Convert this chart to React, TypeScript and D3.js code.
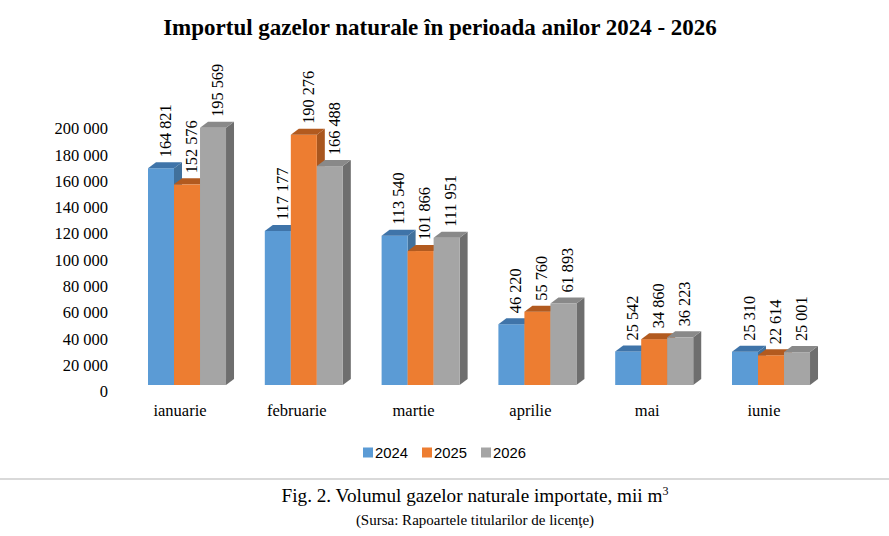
import React from "react";
import * as d3 from "d3";

const months = ["ianuarie", "februarie", "martie", "aprilie", "mai", "iunie"];
const years = ["2024", "2025", "2026"];
const values2024 = [164821, 117177, 113540, 46220, 25542, 25310];
const values2025 = [152576, 190276, 101866, 55760, 34860, 22614];
const values2026 = [195569, 166488, 111951, 61893, 36223, 25001];
const yTicks = [0, 20000, 40000, 60000, 80000, 100000, 120000, 140000, 160000, 180000, 200000];
const title = "Importul gazelor naturale în perioada anilor 2024 - 2026";
const caption = "Fig. 2. Volumul gazelor naturale importate, mii m";
const source = "(Sursa: Rapoartele titularilor de licenţe)";

const W = 889;
const H = 536;
const front = ["#5B9BD5", "#ED7D31", "#A5A5A5"];
const topC = ["#3F74A9", "#B25A1F", "#898989"];
const sideC = ["#41719C", "#A9561E", "#6E6E6E"];
const DX = 8;
const DY = 6;
const serif = "'Liberation Serif', 'Times New Roman', serif";
const sans = "'Liberation Sans', Arial, sans-serif";

const loc = d3.formatLocale({ decimal: ",", thousands: " ", grouping: [3], currency: ["", ""] });
const fmt = loc.format(",d");

export default function App() {
  const series = [values2024, values2025, values2026];
  const pi = 0.332;
  const step = 116.8;
  const r0 = 148 - step * pi / 2;
  const x = d3.scaleBand<string>().domain(months).range([r0, r0 + step * months.length]).paddingInner(pi).paddingOuter(pi / 2);
  const xi = d3.scaleBand<string>().domain(years).range([0, x.bandwidth()]).padding(0);
  const y = d3.scaleLinear().domain([0, 200000]).range([385, 122]);
  const y0 = y(0);
  const w = xi.bandwidth();

  return (
    <svg width={W} height={H} style={{ position: "absolute", left: 0, top: 0, background: "#fff" }}>
      <text x={440} y={35} textAnchor="middle" fontFamily={serif} fontWeight="bold" fontSize={23} fill="#000">{title}</text>
      {yTicks.map((t) => (
        <text key={t} x={108} y={y(t) + 6.5} dy="0.35em" textAnchor="end" fontFamily={serif} fontSize={16.5} fill="#000">{fmt(t)}</text>
      ))}
      {months.map((m, i) => (
        <g key={m}>
          {years.map((yr, j) => {
            const v = series[j][i];
            const bx = (x(m) as number) + (xi(yr) as number);
            const by = y(v);
            const topPts = [[bx, by], [bx + w, by], [bx + w + DX, by - DY], [bx + DX, by - DY]];
            const sidePts = [[bx + w, by], [bx + w + DX, by - DY], [bx + w + DX, y0 - DY], [bx + w, y0]];
            return (
              <g key={yr}>
                <polygon points={sidePts.map((p) => p.join(",")).join(" ")} fill={sideC[j]} />
                <rect x={bx} y={by} width={w} height={y0 - by} fill={front[j]} />
                <polygon points={topPts.map((p) => p.join(",")).join(" ")} fill={topC[j]} />
              </g>
            );
          })}
          {years.map((yr, j) => {
            const v = series[j][i];
            const cx = (x(m) as number) + (xi(yr) as number) + w / 2 + DX / 2;
            const ty = y(v) - DY - 5;
            return (
              <text key={yr} transform={`translate(${cx},${ty}) rotate(-90)`} dy="0.35em" textAnchor="start" fontFamily={serif} fontSize={16.3} fill="#000">{fmt(v)}</text>
            );
          })}
          <text x={(x(m) as number) + x.bandwidth() / 2 - 7} y={416} textAnchor="middle" fontFamily={serif} fontSize={16.5} fill="#000">{m}</text>
        </g>
      ))}
      {years.map((yr, j) => {
        const lx = [363, 422, 481][j];
        return (
          <g key={yr}>
            <rect x={lx} y={447.5} width={10} height={10} fill={front[j]} />
            <text x={lx + 12} y={458} fontFamily={sans} fontSize={14.8} fill="#000">{yr}</text>
          </g>
        );
      })}
      <line x1={0} x2={W} y1={479} y2={479} stroke="#D9D9D9" strokeWidth={2} />
      <text x={475} y={502} textAnchor="middle" fontFamily={serif} fontSize={19.2} fill="#000">
        {caption}
        <tspan dy={-7} fontSize={12}>3</tspan>
      </text>
      <text x={475} y={525} textAnchor="middle" fontFamily={serif} fontSize={15} fill="#000">{source}</text>
    </svg>
  );
}
